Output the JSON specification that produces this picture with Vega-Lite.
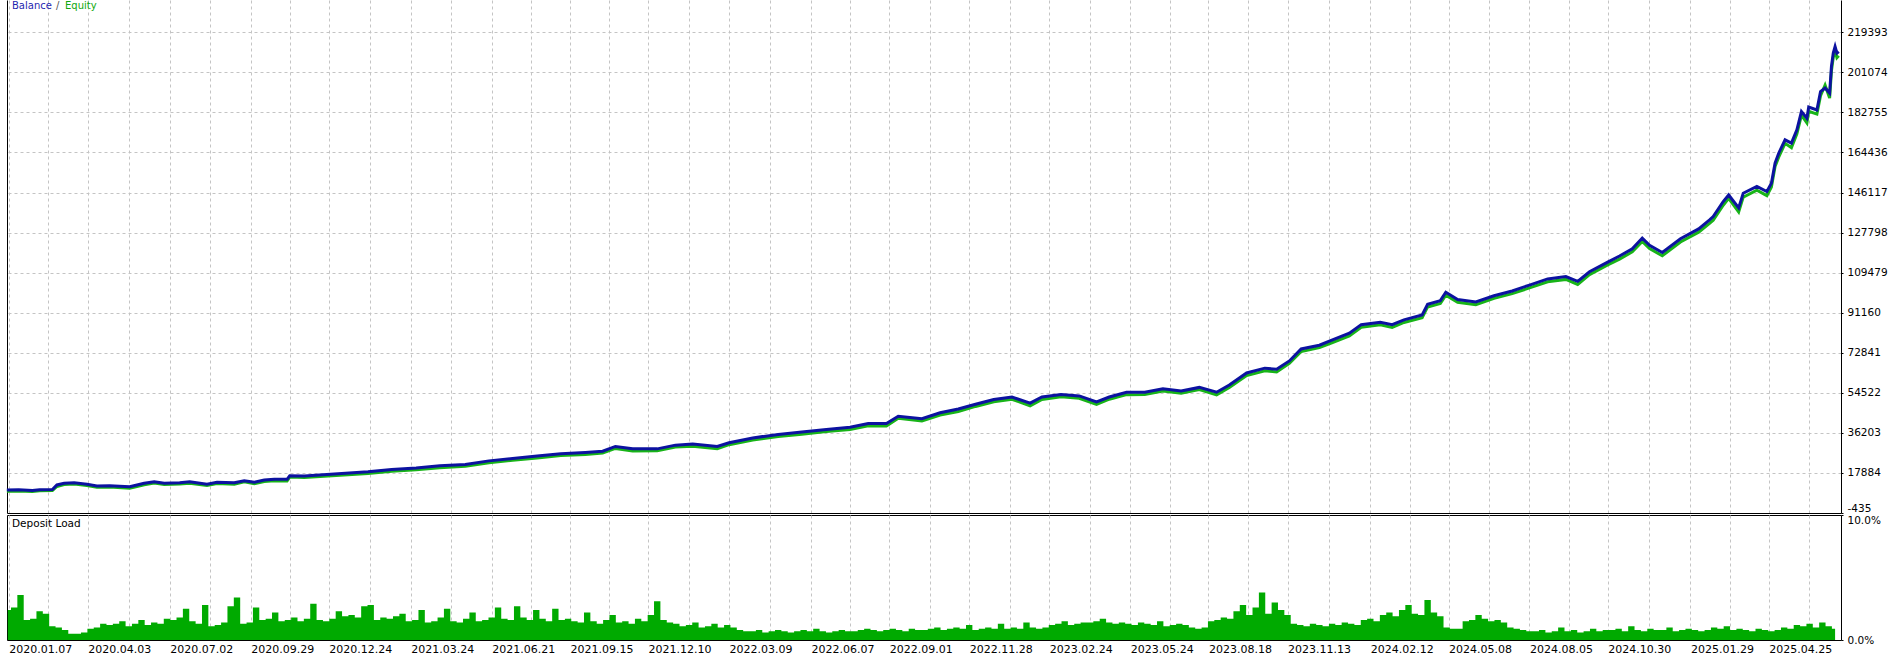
{
  "$schema": "https://vega.github.io/schema/vega-lite/v6.json",
  "padding": 0,
  "background": "#ffffff",
  "spacing": 2,
  "bounds": "flush",
  "config": {
    "view": {"stroke": null},
    "font": "DejaVu Sans",
    "axis": {"labelFont": "DejaVu Sans", "labelColor": "#000000", "labelOverlap": false, "labelFlush": false}
  },
  "datasets": {
    "curve": [
      {"d":"2020-01-05","balance":10050,"equity":9550},
      {"d":"2020-01-18","balance":10200,"equity":9650},
      {"d":"2020-02-02","balance":9900,"equity":9350},
      {"d":"2020-02-10","balance":10250,"equity":9700},
      {"d":"2020-02-24","balance":10300,"equity":9800},
      {"d":"2020-02-29","balance":12400,"equity":11700},
      {"d":"2020-03-08","balance":13150,"equity":12600},
      {"d":"2020-03-19","balance":13430,"equity":12800},
      {"d":"2020-04-02","balance":12700,"equity":12100},
      {"d":"2020-04-13","balance":11900,"equity":11300},
      {"d":"2020-04-27","balance":12050,"equity":11500},
      {"d":"2020-05-19","balance":11600,"equity":10900},
      {"d":"2020-06-04","balance":13150,"equity":12500},
      {"d":"2020-06-15","balance":13900,"equity":13300},
      {"d":"2020-06-26","balance":13150,"equity":12600},
      {"d":"2020-07-13","balance":13430,"equity":12800},
      {"d":"2020-07-24","balance":13900,"equity":13200},
      {"d":"2020-08-12","balance":12700,"equity":12100},
      {"d":"2020-08-23","balance":13600,"equity":13000},
      {"d":"2020-09-11","balance":13400,"equity":12700},
      {"d":"2020-09-22","balance":14350,"equity":13800},
      {"d":"2020-10-03","balance":13600,"equity":13000},
      {"d":"2020-10-14","balance":14650,"equity":14000},
      {"d":"2020-10-25","balance":14950,"equity":14300},
      {"d":"2020-11-08","balance":14950,"equity":14200},
      {"d":"2020-11-11","balance":16600,"equity":16000},
      {"d":"2020-11-27","balance":16500,"equity":15800},
      {"d":"2021-02-05","balance":18400,"equity":17600},
      {"d":"2021-03-03","balance":19500,"equity":18700},
      {"d":"2021-03-30","balance":20100,"equity":19300},
      {"d":"2021-04-25","balance":21200,"equity":20300},
      {"d":"2021-05-23","balance":21700,"equity":20900},
      {"d":"2021-06-18","balance":23400,"equity":22500},
      {"d":"2021-07-14","balance":24500,"equity":23700},
      {"d":"2021-08-10","balance":25600,"equity":24700},
      {"d":"2021-09-05","balance":26700,"equity":25900},
      {"d":"2021-10-02","balance":27250,"equity":26300},
      {"d":"2021-10-21","balance":27800,"equity":27000},
      {"d":"2021-11-04","balance":30000,"equity":29100},
      {"d":"2021-11-23","balance":28900,"equity":27900},
      {"d":"2021-12-20","balance":28900,"equity":28000},
      {"d":"2022-01-09","balance":30600,"equity":29700},
      {"d":"2022-01-28","balance":31100,"equity":30100},
      {"d":"2022-02-24","balance":30000,"equity":29000},
      {"d":"2022-03-09","balance":31700,"equity":30800},
      {"d":"2022-04-04","balance":33900,"equity":32900},
      {"d":"2022-05-02","balance":35500,"equity":34600},
      {"d":"2022-05-28","balance":36600,"equity":35600},
      {"d":"2022-06-24","balance":37700,"equity":36800},
      {"d":"2022-07-20","balance":38800,"equity":37800},
      {"d":"2022-08-09","balance":40500,"equity":39500},
      {"d":"2022-08-29","balance":40500,"equity":39400},
      {"d":"2022-09-11","balance":43800,"equity":42900},
      {"d":"2022-10-07","balance":42700,"equity":41600},
      {"d":"2022-10-27","balance":45400,"equity":44400},
      {"d":"2022-11-16","balance":47100,"equity":46000},
      {"d":"2022-12-05","balance":49300,"equity":48300},
      {"d":"2022-12-25","balance":51500,"equity":50400},
      {"d":"2023-01-14","balance":52600,"equity":51600},
      {"d":"2023-02-03","balance":49800,"equity":48600},
      {"d":"2023-02-16","balance":52600,"equity":51500},
      {"d":"2023-03-09","balance":53700,"equity":52700},
      {"d":"2023-03-29","balance":53100,"equity":52000},
      {"d":"2023-04-17","balance":50400,"equity":49200},
      {"d":"2023-05-01","balance":52600,"equity":51600},
      {"d":"2023-05-20","balance":54800,"equity":53700},
      {"d":"2023-06-09","balance":54800,"equity":53800},
      {"d":"2023-06-29","balance":56400,"equity":55300},
      {"d":"2023-07-19","balance":55400,"equity":54300},
      {"d":"2023-08-08","balance":57000,"equity":56000},
      {"d":"2023-08-27","balance":54800,"equity":53600},
      {"d":"2023-09-10","balance":58100,"equity":57000},
      {"d":"2023-09-29","balance":63600,"equity":62400},
      {"d":"2023-10-19","balance":65800,"equity":64600},
      {"d":"2023-11-01","balance":65300,"equity":64100},
      {"d":"2023-11-15","balance":69100,"equity":68000},
      {"d":"2023-11-28","balance":74600,"equity":73400},
      {"d":"2023-12-18","balance":76300,"equity":75200},
      {"d":"2023-12-31","balance":78500,"equity":77300},
      {"d":"2024-01-20","balance":81800,"equity":80600},
      {"d":"2024-02-02","balance":85700,"equity":84500},
      {"d":"2024-02-23","balance":86800,"equity":85600},
      {"d":"2024-03-07","balance":85700,"equity":84400},
      {"d":"2024-03-20","balance":87900,"equity":86700},
      {"d":"2024-04-09","balance":90100,"equity":88900},
      {"d":"2024-04-15","balance":95000,"equity":93800},
      {"d":"2024-04-29","balance":96700,"equity":95400},
      {"d":"2024-05-05","balance":100500,"equity":99200},
      {"d":"2024-05-18","balance":97200,"equity":95900},
      {"d":"2024-06-07","balance":96100,"equity":94800},
      {"d":"2024-06-27","balance":98900,"equity":97700},
      {"d":"2024-07-17","balance":101100,"equity":99900},
      {"d":"2024-08-05","balance":103800,"equity":102500},
      {"d":"2024-08-25","balance":106600,"equity":105300},
      {"d":"2024-09-14","balance":107700,"equity":106400},
      {"d":"2024-09-27","balance":105500,"equity":104100},
      {"d":"2024-10-10","balance":109900,"equity":108600},
      {"d":"2024-10-30","balance":114300,"equity":113000},
      {"d":"2024-11-12","balance":117100,"equity":115700},
      {"d":"2024-11-26","balance":120400,"equity":119000},
      {"d":"2024-12-07","balance":125300,"equity":123800},
      {"d":"2024-12-15","balance":122000,"equity":120500},
      {"d":"2024-12-29","balance":118700,"equity":117200},
      {"d":"2025-01-18","balance":125000,"equity":123500},
      {"d":"2025-02-07","balance":129500,"equity":128000},
      {"d":"2025-02-19","balance":133600,"equity":132000},
      {"d":"2025-02-23","balance":135100,"equity":133400},
      {"d":"2025-03-06","balance":142000,"equity":140300},
      {"d":"2025-03-12","balance":145000,"equity":143500},
      {"d":"2025-03-23","balance":139100,"equity":137200},
      {"d":"2025-03-28","balance":145800,"equity":144000},
      {"d":"2025-04-12","balance":148900,"equity":147200},
      {"d":"2025-04-23","balance":146600,"equity":144700},
      {"d":"2025-04-28","balance":150400,"equity":148700},
      {"d":"2025-05-02","balance":159600,"equity":158000},
      {"d":"2025-05-06","balance":164100,"equity":162300},
      {"d":"2025-05-13","balance":170200,"equity":168600},
      {"d":"2025-05-20","balance":168700,"equity":166600},
      {"d":"2025-05-26","balance":174800,"equity":173000},
      {"d":"2025-05-31","balance":183200,"equity":181500},
      {"d":"2025-06-06","balance":180100,"equity":178000},
      {"d":"2025-06-08","balance":185200,"equity":183300},
      {"d":"2025-06-17","balance":183900,"equity":182000},
      {"d":"2025-06-21","balance":192300,"equity":190400},
      {"d":"2025-06-26","balance":193900,"equity":195200},
      {"d":"2025-07-01","balance":191600,"equity":189300},
      {"d":"2025-07-03","balance":203800,"equity":201800},
      {"d":"2025-07-05","balance":209900,"equity":208000},
      {"d":"2025-07-07","balance":212900,"equity":211000},
      {"d":"2025-07-09","balance":209900,"equity":207800},
      {"d":"2025-07-11","balance":210600,"equity":208700}
    ],
    "load": [
      {"d":"2020-01-06","v":2.4},{"d":"2020-01-13","v":2.6},{"d":"2020-01-20","v":3.6},{"d":"2020-01-27","v":1.6},{"d":"2020-02-03","v":1.7},{"d":"2020-02-10","v":2.3},{"d":"2020-02-17","v":2.1},{"d":"2020-02-24","v":1.1},{"d":"2020-03-02","v":1.0},{"d":"2020-03-09","v":0.8},
      {"d":"2020-03-16","v":0.5},{"d":"2020-03-23","v":0.5},{"d":"2020-03-30","v":0.6},{"d":"2020-04-06","v":0.9},{"d":"2020-04-13","v":1.0},{"d":"2020-04-20","v":1.3},{"d":"2020-04-27","v":1.2},{"d":"2020-05-04","v":1.3},{"d":"2020-05-11","v":1.5},{"d":"2020-05-18","v":1.1},
      {"d":"2020-05-25","v":1.3},{"d":"2020-06-01","v":1.6},{"d":"2020-06-08","v":1.2},{"d":"2020-06-15","v":1.4},{"d":"2020-06-22","v":1.3},{"d":"2020-06-29","v":1.7},{"d":"2020-07-06","v":1.6},{"d":"2020-07-13","v":1.8},{"d":"2020-07-20","v":2.5},{"d":"2020-07-27","v":1.5},
      {"d":"2020-08-03","v":1.3},{"d":"2020-08-10","v":2.8},{"d":"2020-08-17","v":1.1},{"d":"2020-08-24","v":1.2},{"d":"2020-08-31","v":1.4},{"d":"2020-09-07","v":2.7},{"d":"2020-09-14","v":3.4},{"d":"2020-09-21","v":1.3},{"d":"2020-09-28","v":1.4},{"d":"2020-10-05","v":2.6},
      {"d":"2020-10-12","v":1.6},{"d":"2020-10-19","v":1.7},{"d":"2020-10-26","v":2.2},{"d":"2020-11-02","v":1.5},{"d":"2020-11-09","v":1.6},{"d":"2020-11-16","v":1.8},{"d":"2020-11-23","v":1.5},{"d":"2020-11-30","v":1.7},{"d":"2020-12-07","v":2.9},{"d":"2020-12-14","v":1.6},
      {"d":"2020-12-21","v":1.5},{"d":"2020-12-28","v":1.7},{"d":"2021-01-04","v":2.3},{"d":"2021-01-11","v":1.9},{"d":"2021-01-18","v":2.0},{"d":"2021-01-25","v":1.8},{"d":"2021-02-01","v":2.7},{"d":"2021-02-08","v":2.8},{"d":"2021-02-15","v":1.6},{"d":"2021-02-22","v":1.8},
      {"d":"2021-03-01","v":1.7},{"d":"2021-03-08","v":1.9},{"d":"2021-03-15","v":2.1},{"d":"2021-03-22","v":1.5},{"d":"2021-03-29","v":1.6},{"d":"2021-04-05","v":2.4},{"d":"2021-04-12","v":1.4},{"d":"2021-04-19","v":1.5},{"d":"2021-04-26","v":1.8},{"d":"2021-05-03","v":2.5},
      {"d":"2021-05-10","v":1.5},{"d":"2021-05-17","v":1.4},{"d":"2021-05-24","v":1.7},{"d":"2021-05-31","v":2.2},{"d":"2021-06-07","v":1.5},{"d":"2021-06-14","v":1.6},{"d":"2021-06-21","v":1.8},{"d":"2021-06-28","v":2.6},{"d":"2021-07-05","v":1.7},{"d":"2021-07-12","v":1.6},
      {"d":"2021-07-19","v":2.7},{"d":"2021-07-26","v":1.8},{"d":"2021-08-02","v":1.6},{"d":"2021-08-09","v":2.4},{"d":"2021-08-16","v":1.7},{"d":"2021-08-23","v":1.5},{"d":"2021-08-30","v":2.5},{"d":"2021-09-06","v":1.6},{"d":"2021-09-13","v":1.7},{"d":"2021-09-20","v":1.5},
      {"d":"2021-09-27","v":1.4},{"d":"2021-10-04","v":2.2},{"d":"2021-10-11","v":1.5},{"d":"2021-10-18","v":1.3},{"d":"2021-10-25","v":1.6},{"d":"2021-11-01","v":2.0},{"d":"2021-11-08","v":1.4},{"d":"2021-11-15","v":1.5},{"d":"2021-11-22","v":1.3},{"d":"2021-11-29","v":1.7},
      {"d":"2021-12-06","v":1.5},{"d":"2021-12-13","v":2.0},{"d":"2021-12-20","v":3.1},{"d":"2021-12-27","v":1.6},{"d":"2022-01-03","v":1.4},{"d":"2022-01-10","v":1.3},{"d":"2022-01-17","v":1.1},{"d":"2022-01-24","v":1.2},{"d":"2022-01-31","v":1.4},{"d":"2022-02-07","v":1.0},
      {"d":"2022-02-14","v":1.1},{"d":"2022-02-21","v":1.3},{"d":"2022-02-28","v":1.0},{"d":"2022-03-07","v":1.2},{"d":"2022-03-14","v":1.0},{"d":"2022-03-21","v":0.8},{"d":"2022-03-28","v":0.7},{"d":"2022-04-04","v":0.7},{"d":"2022-04-11","v":0.8},{"d":"2022-04-18","v":0.6},
      {"d":"2022-04-25","v":0.7},{"d":"2022-05-02","v":0.8},{"d":"2022-05-09","v":0.7},{"d":"2022-05-16","v":0.6},{"d":"2022-05-23","v":0.7},{"d":"2022-05-30","v":0.8},{"d":"2022-06-06","v":0.7},{"d":"2022-06-13","v":0.9},{"d":"2022-06-20","v":0.7},{"d":"2022-06-27","v":0.6},
      {"d":"2022-07-04","v":0.7},{"d":"2022-07-11","v":0.8},{"d":"2022-07-18","v":0.7},{"d":"2022-07-25","v":0.7},{"d":"2022-08-01","v":0.8},{"d":"2022-08-08","v":0.9},{"d":"2022-08-15","v":0.8},{"d":"2022-08-22","v":0.7},{"d":"2022-08-29","v":0.8},{"d":"2022-09-05","v":0.9},
      {"d":"2022-09-12","v":0.8},{"d":"2022-09-19","v":0.7},{"d":"2022-09-26","v":0.9},{"d":"2022-10-03","v":0.8},{"d":"2022-10-10","v":0.8},{"d":"2022-10-17","v":0.9},{"d":"2022-10-24","v":1.0},{"d":"2022-10-31","v":0.8},{"d":"2022-11-07","v":0.9},{"d":"2022-11-14","v":1.0},
      {"d":"2022-11-21","v":0.9},{"d":"2022-11-28","v":1.2},{"d":"2022-12-05","v":0.8},{"d":"2022-12-12","v":0.9},{"d":"2022-12-19","v":1.0},{"d":"2022-12-26","v":0.9},{"d":"2023-01-02","v":1.3},{"d":"2023-01-09","v":0.9},{"d":"2023-01-16","v":1.0},{"d":"2023-01-23","v":0.9},
      {"d":"2023-01-30","v":1.4},{"d":"2023-02-06","v":1.0},{"d":"2023-02-13","v":0.9},{"d":"2023-02-20","v":1.0},{"d":"2023-02-27","v":1.2},{"d":"2023-03-06","v":1.3},{"d":"2023-03-13","v":1.5},{"d":"2023-03-20","v":1.2},{"d":"2023-03-27","v":1.3},{"d":"2023-04-03","v":1.4},
      {"d":"2023-04-10","v":1.4},{"d":"2023-04-17","v":1.5},{"d":"2023-04-24","v":1.7},{"d":"2023-05-01","v":1.4},{"d":"2023-05-08","v":1.3},{"d":"2023-05-15","v":1.4},{"d":"2023-05-22","v":1.3},{"d":"2023-05-29","v":1.2},{"d":"2023-06-05","v":1.4},{"d":"2023-06-12","v":1.3},
      {"d":"2023-06-19","v":1.2},{"d":"2023-06-26","v":1.5},{"d":"2023-07-03","v":1.1},{"d":"2023-07-10","v":1.2},{"d":"2023-07-17","v":1.3},{"d":"2023-07-24","v":1.2},{"d":"2023-07-31","v":1.0},{"d":"2023-08-07","v":0.9},{"d":"2023-08-14","v":1.0},{"d":"2023-08-21","v":1.5},
      {"d":"2023-08-28","v":1.6},{"d":"2023-09-04","v":1.8},{"d":"2023-09-11","v":1.7},{"d":"2023-09-18","v":2.3},{"d":"2023-09-25","v":2.8},{"d":"2023-10-02","v":2.0},{"d":"2023-10-09","v":2.6},{"d":"2023-10-16","v":3.8},{"d":"2023-10-23","v":2.1},{"d":"2023-10-30","v":3.0},
      {"d":"2023-11-06","v":2.4},{"d":"2023-11-13","v":2.0},{"d":"2023-11-20","v":1.3},{"d":"2023-11-27","v":1.2},{"d":"2023-12-04","v":1.1},{"d":"2023-12-11","v":1.3},{"d":"2023-12-18","v":1.2},{"d":"2023-12-25","v":1.1},{"d":"2024-01-01","v":1.3},{"d":"2024-01-08","v":1.2},
      {"d":"2024-01-15","v":1.4},{"d":"2024-01-22","v":1.3},{"d":"2024-01-29","v":1.2},{"d":"2024-02-05","v":1.6},{"d":"2024-02-12","v":1.7},{"d":"2024-02-19","v":1.5},{"d":"2024-02-26","v":2.0},{"d":"2024-03-04","v":2.2},{"d":"2024-03-11","v":1.9},{"d":"2024-03-18","v":2.4},
      {"d":"2024-03-25","v":2.8},{"d":"2024-04-01","v":2.1},{"d":"2024-04-08","v":2.0},{"d":"2024-04-15","v":3.2},{"d":"2024-04-22","v":2.2},{"d":"2024-04-29","v":1.9},{"d":"2024-05-06","v":1.0},{"d":"2024-05-13","v":0.9},{"d":"2024-05-20","v":0.9},{"d":"2024-05-27","v":1.5},
      {"d":"2024-06-03","v":1.6},{"d":"2024-06-10","v":2.0},{"d":"2024-06-17","v":1.7},{"d":"2024-06-24","v":1.5},{"d":"2024-07-01","v":1.6},{"d":"2024-07-08","v":1.4},{"d":"2024-07-15","v":1.0},{"d":"2024-07-22","v":0.9},{"d":"2024-07-29","v":0.8},{"d":"2024-08-05","v":0.7},
      {"d":"2024-08-12","v":0.7},{"d":"2024-08-19","v":0.8},{"d":"2024-08-26","v":0.6},{"d":"2024-09-02","v":0.7},{"d":"2024-09-09","v":1.0},{"d":"2024-09-16","v":0.7},{"d":"2024-09-23","v":0.8},{"d":"2024-09-30","v":0.6},{"d":"2024-10-07","v":0.7},{"d":"2024-10-14","v":0.9},
      {"d":"2024-10-21","v":0.7},{"d":"2024-10-28","v":0.8},{"d":"2024-11-04","v":0.8},{"d":"2024-11-11","v":0.9},{"d":"2024-11-18","v":0.7},{"d":"2024-11-25","v":1.1},{"d":"2024-12-02","v":0.8},{"d":"2024-12-09","v":0.7},{"d":"2024-12-16","v":0.9},{"d":"2024-12-23","v":0.8},
      {"d":"2024-12-30","v":0.8},{"d":"2025-01-06","v":1.0},{"d":"2025-01-13","v":0.7},{"d":"2025-01-20","v":0.8},{"d":"2025-01-27","v":0.9},{"d":"2025-02-03","v":0.8},{"d":"2025-02-10","v":0.7},{"d":"2025-02-17","v":0.8},{"d":"2025-02-24","v":1.0},{"d":"2025-03-03","v":0.9},
      {"d":"2025-03-10","v":1.1},{"d":"2025-03-17","v":0.8},{"d":"2025-03-24","v":0.9},{"d":"2025-03-31","v":0.8},{"d":"2025-04-07","v":0.7},{"d":"2025-04-14","v":0.9},{"d":"2025-04-21","v":0.8},{"d":"2025-04-28","v":0.7},{"d":"2025-05-05","v":0.8},{"d":"2025-05-12","v":1.0},
      {"d":"2025-05-19","v":0.9},{"d":"2025-05-26","v":1.2},{"d":"2025-06-02","v":1.1},{"d":"2025-06-09","v":1.3},{"d":"2025-06-16","v":1.0},{"d":"2025-06-23","v":1.4},{"d":"2025-06-30","v":1.1},{"d":"2025-07-07","v":0.9}
    ]
  },
  "vconcat": [
    {
      "width": 1834,
      "height": 513,
      "data": {"name": "curve"},
      "resolve": {"axis": {"y": "independent"}},
      "layer": [
        {
          "mark": {"type": "line", "color": "#18b418", "strokeWidth": 3},
          "encoding": {
            "x": {
              "field": "d", "type": "temporal",
              "scale": {"domain": [{"year":2020,"month":1,"date":5,"hours":3,"utc":true}, {"year":2025,"month":7,"date":13,"hours":12,"utc":true}]},
              "axis": {
                "title": null, "orient": "bottom", "labels": false, "ticks": false, "grid": true,
                "gridColor": "#c4c4c4", "gridDash": [3, 3], "gridWidth": 1,
                "domain": true, "domainColor": "#000000", "domainWidth": 1,
                "values": [
                  {"year":2020,"month":1,"date":7,"utc":true},{"year":2020,"month":2,"date":19,"hours":12,"utc":true},
                  {"year":2020,"month":4,"date":3,"utc":true},{"year":2020,"month":5,"date":18,"hours":12,"utc":true},
                  {"year":2020,"month":7,"date":2,"utc":true},{"year":2020,"month":8,"date":15,"hours":12,"utc":true},
                  {"year":2020,"month":9,"date":29,"utc":true},{"year":2020,"month":11,"date":11,"hours":12,"utc":true},
                  {"year":2020,"month":12,"date":24,"utc":true},{"year":2021,"month":2,"date":7,"hours":12,"utc":true},
                  {"year":2021,"month":3,"date":24,"utc":true},{"year":2021,"month":5,"date":7,"hours":12,"utc":true},
                  {"year":2021,"month":6,"date":21,"utc":true},{"year":2021,"month":8,"date":3,"hours":12,"utc":true},
                  {"year":2021,"month":9,"date":15,"utc":true},{"year":2021,"month":10,"date":28,"hours":12,"utc":true},
                  {"year":2021,"month":12,"date":10,"utc":true},{"year":2022,"month":1,"date":23,"hours":12,"utc":true},
                  {"year":2022,"month":3,"date":9,"utc":true},{"year":2022,"month":4,"date":23,"hours":12,"utc":true},
                  {"year":2022,"month":6,"date":7,"utc":true},{"year":2022,"month":7,"date":20,"hours":12,"utc":true},
                  {"year":2022,"month":9,"date":1,"utc":true},{"year":2022,"month":10,"date":15,"hours":12,"utc":true},
                  {"year":2022,"month":11,"date":28,"utc":true},{"year":2023,"month":1,"date":11,"hours":12,"utc":true},
                  {"year":2023,"month":2,"date":24,"utc":true},{"year":2023,"month":4,"date":9,"hours":12,"utc":true},
                  {"year":2023,"month":5,"date":24,"utc":true},{"year":2023,"month":7,"date":6,"hours":12,"utc":true},
                  {"year":2023,"month":8,"date":18,"utc":true},{"year":2023,"month":9,"date":30,"hours":12,"utc":true},
                  {"year":2023,"month":11,"date":13,"utc":true},{"year":2023,"month":12,"date":28,"hours":12,"utc":true},
                  {"year":2024,"month":2,"date":12,"utc":true},{"year":2024,"month":3,"date":26,"hours":12,"utc":true},
                  {"year":2024,"month":5,"date":8,"utc":true},{"year":2024,"month":6,"date":21,"hours":12,"utc":true},
                  {"year":2024,"month":8,"date":5,"utc":true},{"year":2024,"month":9,"date":17,"hours":12,"utc":true},
                  {"year":2024,"month":10,"date":30,"utc":true},{"year":2024,"month":12,"date":14,"hours":12,"utc":true},
                  {"year":2025,"month":1,"date":29,"utc":true},{"year":2025,"month":3,"date":13,"hours":12,"utc":true},
                  {"year":2025,"month":4,"date":25,"utc":true},{"year":2025,"month":6,"date":8,"hours":12,"utc":true}
                ]
              }
            },
            "y": {
              "field": "equity", "type": "quantitative",
              "scale": {"domain": [-435, 234171], "nice": false, "zero": false},
              "axis": {"title": null, "orient": "left", "labels": false, "ticks": false, "grid": false, "domain": true, "domainColor": "#000000"}
            }
          }
        },
        {
          "mark": {"type": "line", "color": "#0c12a0", "strokeWidth": 3},
          "encoding": {
            "x": {"field": "d", "type": "temporal"},
            "y": {
              "field": "balance", "type": "quantitative",
              "scale": {"domain": [-435, 234171], "nice": false, "zero": false},
              "axis": {
                "title": null, "orient": "right",
                "values": [-435, 17884, 36203, 54522, 72841, 91160, 109479, 127798, 146117, 164436, 182755, 201074, 219393],
                "labelExpr": "'' + datum.value",
                "labelBaseline": {"condition": {"test": "datum.value < 0", "value": "bottom"}, "value": "middle"},
                "labelFontSize": 10.5, "labelPadding": 4,
                "ticks": true, "tickSize": 2, "tickColor": "#000000",
                "domain": true, "domainColor": "#000000",
                "grid": true, "gridColor": "#c4c4c4", "gridDash": [3, 3]
              }
            }
          }
        },
        {
          "data": {"values": [{}]},
          "mark": {"type": "text", "text": "Balance", "align": "left", "baseline": "top", "dx": 5, "dy": 1, "font": "DejaVu Sans", "fontSize": 10, "color": "#1f1fb0"},
          "encoding": {
            "x": {"datum": {"year": 2020, "month": 1, "date": 5, "hours": 3, "utc": true}, "type": "temporal"},
            "y": {"datum": 234171, "type": "quantitative", "axis": null}
          }
        },
        {
          "data": {"values": [{}]},
          "mark": {"type": "text", "text": "/", "align": "left", "baseline": "top", "dx": 49, "dy": 1, "font": "DejaVu Sans", "fontSize": 10, "color": "#555555"},
          "encoding": {
            "x": {"datum": {"year": 2020, "month": 1, "date": 5, "hours": 3, "utc": true}, "type": "temporal"},
            "y": {"datum": 234171, "type": "quantitative", "axis": null}
          }
        },
        {
          "data": {"values": [{}]},
          "mark": {"type": "text", "text": "Equity", "align": "left", "baseline": "top", "dx": 58, "dy": 1, "font": "DejaVu Sans", "fontSize": 10, "color": "#10a810"},
          "encoding": {
            "x": {"datum": {"year": 2020, "month": 1, "date": 5, "hours": 3, "utc": true}, "type": "temporal"},
            "y": {"datum": 234171, "type": "quantitative", "axis": null}
          }
        }
      ]
    },
    {
      "width": 1834,
      "height": 125,
      "view": {"stroke": "#000000", "strokeWidth": 1},
      "layer": [
        {
          "data": {"name": "load"},
          "mark": {"type": "area", "interpolate": "step", "color": "#00aa00", "opacity": 1},
          "encoding": {
            "x": {
              "field": "d", "type": "temporal",
              "scale": {"domain": [{"year":2020,"month":1,"date":5,"hours":3,"utc":true}, {"year":2025,"month":7,"date":13,"hours":12,"utc":true}]},
              "axis": {
                "title": null, "orient": "bottom",
                "values": [
                  {"year":2020,"month":1,"date":7,"utc":true},{"year":2020,"month":2,"date":19,"hours":12,"utc":true},
                  {"year":2020,"month":4,"date":3,"utc":true},{"year":2020,"month":5,"date":18,"hours":12,"utc":true},
                  {"year":2020,"month":7,"date":2,"utc":true},{"year":2020,"month":8,"date":15,"hours":12,"utc":true},
                  {"year":2020,"month":9,"date":29,"utc":true},{"year":2020,"month":11,"date":11,"hours":12,"utc":true},
                  {"year":2020,"month":12,"date":24,"utc":true},{"year":2021,"month":2,"date":7,"hours":12,"utc":true},
                  {"year":2021,"month":3,"date":24,"utc":true},{"year":2021,"month":5,"date":7,"hours":12,"utc":true},
                  {"year":2021,"month":6,"date":21,"utc":true},{"year":2021,"month":8,"date":3,"hours":12,"utc":true},
                  {"year":2021,"month":9,"date":15,"utc":true},{"year":2021,"month":10,"date":28,"hours":12,"utc":true},
                  {"year":2021,"month":12,"date":10,"utc":true},{"year":2022,"month":1,"date":23,"hours":12,"utc":true},
                  {"year":2022,"month":3,"date":9,"utc":true},{"year":2022,"month":4,"date":23,"hours":12,"utc":true},
                  {"year":2022,"month":6,"date":7,"utc":true},{"year":2022,"month":7,"date":20,"hours":12,"utc":true},
                  {"year":2022,"month":9,"date":1,"utc":true},{"year":2022,"month":10,"date":15,"hours":12,"utc":true},
                  {"year":2022,"month":11,"date":28,"utc":true},{"year":2023,"month":1,"date":11,"hours":12,"utc":true},
                  {"year":2023,"month":2,"date":24,"utc":true},{"year":2023,"month":4,"date":9,"hours":12,"utc":true},
                  {"year":2023,"month":5,"date":24,"utc":true},{"year":2023,"month":7,"date":6,"hours":12,"utc":true},
                  {"year":2023,"month":8,"date":18,"utc":true},{"year":2023,"month":9,"date":30,"hours":12,"utc":true},
                  {"year":2023,"month":11,"date":13,"utc":true},{"year":2023,"month":12,"date":28,"hours":12,"utc":true},
                  {"year":2024,"month":2,"date":12,"utc":true},{"year":2024,"month":3,"date":26,"hours":12,"utc":true},
                  {"year":2024,"month":5,"date":8,"utc":true},{"year":2024,"month":6,"date":21,"hours":12,"utc":true},
                  {"year":2024,"month":8,"date":5,"utc":true},{"year":2024,"month":9,"date":17,"hours":12,"utc":true},
                  {"year":2024,"month":10,"date":30,"utc":true},{"year":2024,"month":12,"date":14,"hours":12,"utc":true},
                  {"year":2025,"month":1,"date":29,"utc":true},{"year":2025,"month":3,"date":13,"hours":12,"utc":true},
                  {"year":2025,"month":4,"date":25,"utc":true},{"year":2025,"month":6,"date":8,"hours":12,"utc":true}
                ],
                "labelExpr": "utchours(datum.value) == 12 ? '' : utcFormat(datum.value, '%Y.%m.%d')",
                "labelAlign": "left", "labelBaseline": "top", "labelPadding": 3, "labelFontSize": 11,
                "ticks": false, "domain": false,
                "grid": true, "gridColor": "#c4c4c4", "gridDash": [3, 3]
              }
            },
            "y": {
              "field": "v", "type": "quantitative",
              "scale": {"domain": [0, 10], "nice": false},
              "axis": {
                "title": null, "orient": "right", "values": [0, 10],
                "labelExpr": "format(datum.value, '.1f') + '%'",
                "labelBaseline": {"condition": {"test": "datum.value > 5", "value": "top"}, "value": "middle"},
                "labelFontSize": 10.5, "labelPadding": 4,
                "ticks": true, "tickSize": 2, "tickColor": "#000000",
                "grid": false, "domain": false
              }
            }
          }
        },
        {
          "data": {"values": [{}]},
          "mark": {"type": "text", "text": "Deposit Load", "align": "left", "baseline": "top", "dx": 5, "dy": 4, "font": "DejaVu Sans", "fontSize": 10.5, "color": "#000000"},
          "encoding": {
            "x": {"datum": {"year": 2020, "month": 1, "date": 5, "hours": 3, "utc": true}, "type": "temporal"},
            "y": {"datum": 10, "type": "quantitative"}
          }
        }
      ]
    }
  ]
}
